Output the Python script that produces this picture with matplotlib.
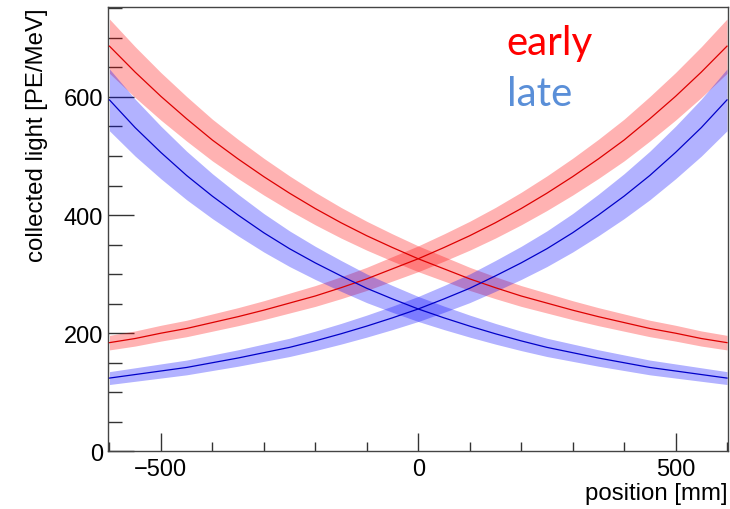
import numpy as np
import matplotlib
matplotlib.use("Agg")
import matplotlib.pyplot as plt
from matplotlib.ticker import MultipleLocator

# position [mm]
position = [-600, -550, -500, -450, -400, -350, -300, -250, -200, -150, -100, -50,
            0, 50, 100, 150, 200, 250, 300, 350, 400, 450, 500, 550, 600]

# collected light [PE/MeV], curve falling from left to right
early_falling = [686, 642, 601, 563, 527, 495, 465, 437, 411, 387, 365, 345,
                 326, 309, 292, 277, 263, 251, 239, 228, 218, 208, 200, 191, 184]
late_falling = [595, 548, 506, 467, 432, 400, 370, 343, 319, 297, 276, 258,
                241, 226, 212, 199, 187, 176, 167, 158, 150, 142, 136, 130, 124]
# mirrored curves (rising from left to right)
early_rising = early_falling[::-1]
late_rising = late_falling[::-1]

# relative half-width of the uncertainty bands
early_rel_err = 0.067
late_rel_err = 0.088

plt.rcParams['font.family'] = ['Liberation Sans', 'DejaVu Sans']

fig = plt.figure(figsize=(7.3, 5.1), dpi=100)
ax = fig.add_axes([0.1485, 0.1131, 0.8488, 0.8709])

x = np.array(position, dtype=float)

def band(y, rel, fill, line):
    y = np.array(y, dtype=float)
    ax.fill_between(x, y * (1 - rel), y * (1 + rel), color=fill, alpha=0.30,
                    linewidth=0, zorder=2)
    ax.plot(x, y, color=line, linewidth=0.9, zorder=3)

band(early_falling, early_rel_err, '#ff0000', '#dd0000')
band(early_rising, early_rel_err, '#ff0000', '#dd0000')
band(late_falling, late_rel_err, '#0000ff', '#0000c8')
band(late_rising, late_rel_err, '#0000ff', '#0000c8')

ax.set_xlim(-602, 602)
ax.set_ylim(0, 752)

ax.xaxis.set_major_locator(MultipleLocator(500))
ax.xaxis.set_minor_locator(MultipleLocator(100))
ax.yaxis.set_major_locator(MultipleLocator(200))
ax.yaxis.set_minor_locator(MultipleLocator(50))

ax.tick_params(axis='both', which='both', direction='in', top=False, right=False,
               color='#333333', width=1.0, labelsize=17, colors='#333333',
               labelcolor='black')
ax.tick_params(axis='x', which='major', length=13, pad=5)
ax.tick_params(axis='x', which='minor', length=6.5)
ax.tick_params(axis='y', which='major', length=19, pad=4)
ax.tick_params(axis='y', which='minor', length=10)

for s in ax.spines.values():
    s.set_color('#444444')
    s.set_linewidth(1.0)

ax.set_xlabel('position [mm]', fontsize=17.3, loc='right', labelpad=1)
ax.set_ylabel('collected light [PE/MeV]', fontsize=17.3, loc='top', labelpad=11)

ax.text(0.643, 0.894, 'early', transform=ax.transAxes, color='#ff0000',
        fontsize=29, family=['Lato', 'DejaVu Sans'], ha='left', va='baseline')
ax.text(0.643, 0.779, 'late', transform=ax.transAxes, color='#5a8fd8',
        fontsize=29, family=['Lato', 'DejaVu Sans'], ha='left', va='baseline')

fig.savefig('out.png', dpi=100)
